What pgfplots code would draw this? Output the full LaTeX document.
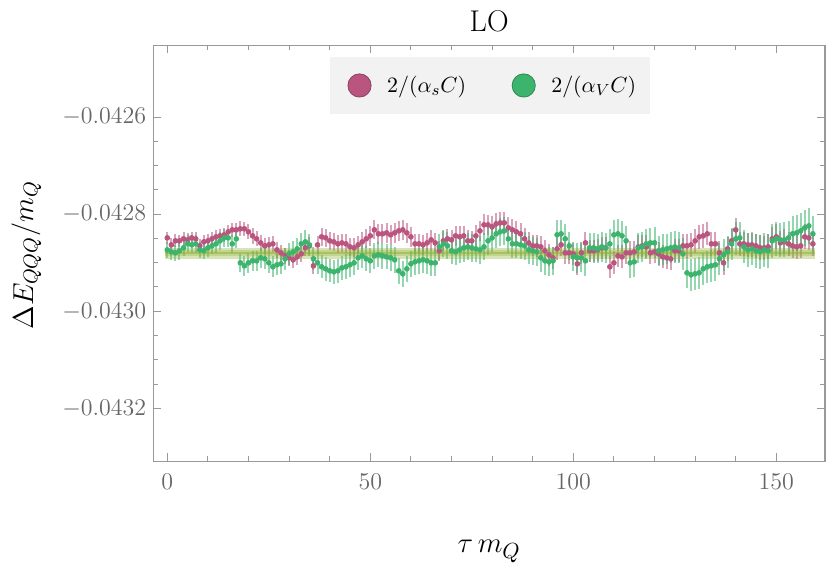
\documentclass[border=0pt]{standalone}
\usepackage{pgfplots}
\usepackage{pgfplotstable}
\pgfplotsset{compat=1.18}
\definecolor{pinkc}{HTML}{BA5580}
\definecolor{greenc}{HTML}{3DB46D}
\definecolor{bandc}{HTML}{8FB032}
\definecolor{framec}{HTML}{999999}
\definecolor{tickc}{HTML}{666666}
\definecolor{legbg}{HTML}{F2F2F2}

% t, 2/(alpha_s C): value and error, 2/(alpha_V C): value and error
\pgfplotstableread{
t yp ep yg eg
0 -0.0428488 0.0000130 -0.0428735 0.0000165
1 -0.0428632 0.0000140 -0.0428776 0.0000175
2 -0.0428549 0.0000135 -0.0428796 0.0000170
3 -0.0428549 0.0000130 -0.0428755 0.0000180
4 -0.0428508 0.0000140 -0.0428693 0.0000170
5 -0.0428529 0.0000135 -0.0428611 0.0000175
6 -0.0428488 0.0000130 -0.0428632 0.0000165
7 -0.0428508 0.0000140 -0.0428611 0.0000180
8 -0.0428652 0.0000135 -0.0428735 0.0000170
9 -0.0428570 0.0000145 -0.0428755 0.0000175
10 -0.0428549 0.0000140 -0.0428693 0.0000180
11 -0.0428508 0.0000135 -0.0428652 0.0000175
12 -0.0428467 0.0000145 -0.0428611 0.0000185
13 -0.0428447 0.0000140 -0.0428549 0.0000180
14 -0.0428426 0.0000150 -0.0428488 0.0000190
15 -0.0428364 0.0000145 -0.0428488 0.0000185
16 -0.0428323 0.0000150 -0.0428611 0.0000190
17 -0.0428323 0.0000145 -0.0428508 0.0000195
18 -0.0428302 0.0000155 -0.0429002 0.0000190
19 -0.0428302 0.0000150 -0.0429064 0.0000200
20 -0.0428364 0.0000155 -0.0429002 0.0000205
21 -0.0428447 0.0000160 -0.0428961 0.0000200
22 -0.0428508 0.0000155 -0.0428961 0.0000210
23 -0.0428591 0.0000165 -0.0428899 0.0000205
24 -0.0428652 0.0000160 -0.0428920 0.0000215
25 -0.0428632 0.0000165 -0.0429002 0.0000210
26 -0.0428611 0.0000160 -0.0429084 0.0000215
27 -0.0428735 0.0000170 -0.0429043 0.0000220
28 -0.0428796 0.0000165 -0.0429023 0.0000215
29 -0.0428858 0.0000170 -0.0428920 0.0000225
30 -0.0428899 0.0000165 -0.0428817 0.0000220
31 -0.0428940 0.0000175 -0.0428776 0.0000230
32 -0.0428879 0.0000170 -0.0428714 0.0000225
33 -0.0428817 0.0000175 -0.0428611 0.0000230
34 -0.0428693 0.0000170 -0.0428570 0.0000235
35 -0.0428652 0.0000180 -0.0428632 0.0000230
36 -0.0429064 0.0000175 -0.0428920 0.0000240
37 -0.0428632 0.0000180 -0.0429002 0.0000235
38 -0.0428467 0.0000185 -0.0429084 0.0000240
39 -0.0428488 0.0000180 -0.0429126 0.0000245
40 -0.0428549 0.0000185 -0.0429167 0.0000240
41 -0.0428570 0.0000190 -0.0429187 0.0000250
42 -0.0428611 0.0000185 -0.0429167 0.0000245
43 -0.0428591 0.0000190 -0.0429105 0.0000250
44 -0.0428611 0.0000195 -0.0429084 0.0000255
45 -0.0428673 0.0000190 -0.0429043 0.0000250
46 -0.0428693 0.0000195 -0.0429002 0.0000255
47 -0.0428632 0.0000190 -0.0428899 0.0000260
48 -0.0428570 0.0000200 -0.0428858 0.0000255
49 -0.0428508 0.0000195 -0.0428920 0.0000260
50 -0.0428447 0.0000200 -0.0428961 0.0000255
51 -0.0428323 0.0000195 -0.0428858 0.0000265
52 -0.0428405 0.0000200 -0.0428837 0.0000260
53 -0.0428405 0.0000195 -0.0428858 0.0000265
54 -0.0428385 0.0000205 -0.0428879 0.0000260
55 -0.0428426 0.0000200 -0.0428899 0.0000265
56 -0.0428385 0.0000205 -0.0428940 0.0000270
57 -0.0428344 0.0000200 -0.0429167 0.0000265
58 -0.0428323 0.0000205 -0.0429228 0.0000270
59 -0.0428385 0.0000200 -0.0429126 0.0000265
60 -0.0428467 0.0000205 -0.0429023 0.0000270
61 -0.0428611 0.0000200 -0.0428981 0.0000275
62 -0.0428611 0.0000205 -0.0428961 0.0000270
63 -0.0428632 0.0000210 -0.0428940 0.0000275
64 -0.0428591 0.0000205 -0.0428961 0.0000270
65 -0.0428529 0.0000210 -0.0429002 0.0000275
66 -0.0428591 0.0000205 -0.0429002 0.0000280
67 -0.0428755 0.0000210 -0.0428673 0.0000275
68 -0.0428549 0.0000205 -0.0428611 0.0000280
69 -0.0428508 0.0000210 -0.0428652 0.0000275
70 -0.0428529 0.0000205 -0.0428755 0.0000280
71 -0.0428447 0.0000210 -0.0428776 0.0000275
72 -0.0428467 0.0000215 -0.0428735 0.0000280
73 -0.0428447 0.0000210 -0.0428693 0.0000285
74 -0.0428549 0.0000215 -0.0428673 0.0000280
75 -0.0428549 0.0000210 -0.0428693 0.0000285
76 -0.0428447 0.0000215 -0.0428714 0.0000280
77 -0.0428344 0.0000210 -0.0428735 0.0000285
78 -0.0428220 0.0000215 -0.0428673 0.0000280
79 -0.0428220 0.0000210 -0.0428549 0.0000285
80 -0.0428261 0.0000215 -0.0428488 0.0000290
81 -0.0428200 0.0000220 -0.0428405 0.0000285
82 -0.0428179 0.0000215 -0.0428364 0.0000290
83 -0.0428179 0.0000220 -0.0428344 0.0000285
84 -0.0428282 0.0000215 -0.0428508 0.0000290
85 -0.0428323 0.0000220 -0.0428611 0.0000285
86 -0.0428364 0.0000215 -0.0428611 0.0000290
87 -0.0428405 0.0000220 -0.0428632 0.0000295
88 -0.0428508 0.0000215 -0.0428652 0.0000290
89 -0.0428591 0.0000220 -0.0428735 0.0000295
90 -0.0428652 0.0000215 -0.0428755 0.0000290
91 -0.0428652 0.0000220 -0.0428776 0.0000295
92 -0.0428673 0.0000225 -0.0428899 0.0000290
93 -0.0428755 0.0000220 -0.0428961 0.0000295
94 -0.0428837 0.0000225 -0.0428981 0.0000300
95 -0.0428899 0.0000220 -0.0428961 0.0000295
96 -0.0428714 0.0000225 -0.0428426 0.0000300
97 -0.0428632 0.0000220 -0.0428405 0.0000295
98 -0.0428796 0.0000225 -0.0428508 0.0000300
99 -0.0428796 0.0000220 -0.0428652 0.0000295
100 -0.0428817 0.0000225 -0.0428879 0.0000300
101 -0.0429023 0.0000230 -0.0428899 0.0000305
102 -0.0428796 0.0000225 -0.0428899 0.0000300
103 -0.0428591 0.0000230 -0.0428961 0.0000305
104 -0.0428755 0.0000225 -0.0428693 0.0000300
105 -0.0428755 0.0000230 -0.0428693 0.0000305
106 -0.0428735 0.0000225 -0.0428714 0.0000300
107 -0.0428693 0.0000230 -0.0428673 0.0000305
108 -0.0428693 0.0000225 -0.0428693 0.0000310
109 -0.0429084 0.0000230 -0.0428611 0.0000305
110 -0.0429002 0.0000235 -0.0428426 0.0000310
111 -0.0428858 0.0000230 -0.0428405 0.0000305
112 -0.0428879 0.0000235 -0.0428447 0.0000310
113 -0.0428796 0.0000230 -0.0428549 0.0000305
114 -0.0428796 0.0000235 -0.0429002 0.0000310
115 -0.0428776 0.0000230 -0.0428981 0.0000315
116 -0.0428673 0.0000235 -0.0428693 0.0000310
117 -0.0428652 0.0000230 -0.0428673 0.0000315
118 -0.0428673 0.0000235 -0.0428611 0.0000310
119 -0.0428796 0.0000230 -0.0428591 0.0000315
120 -0.0428776 0.0000235 -0.0428591 0.0000320
121 -0.0428817 0.0000240 -0.0428755 0.0000315
122 -0.0428879 0.0000235 -0.0428735 0.0000320
123 -0.0428899 0.0000240 -0.0428714 0.0000315
124 -0.0428920 0.0000235 -0.0428693 0.0000320
125 -0.0428755 0.0000240 -0.0428673 0.0000325
126 -0.0428755 0.0000235 -0.0428693 0.0000320
127 -0.0428652 0.0000240 -0.0428817 0.0000325
128 -0.0428652 0.0000245 -0.0429208 0.0000320
129 -0.0428632 0.0000240 -0.0429249 0.0000325
130 -0.0428549 0.0000245 -0.0429228 0.0000330
131 -0.0428467 0.0000240 -0.0429208 0.0000325
132 -0.0428447 0.0000245 -0.0429126 0.0000330
133 -0.0428405 0.0000240 -0.0429084 0.0000325
134 -0.0428611 0.0000245 -0.0429064 0.0000330
135 -0.0428611 0.0000240 -0.0429043 0.0000335
136 -0.0428796 0.0000245 -0.0428920 0.0000330
137 -0.0429002 0.0000250 -0.0428837 0.0000335
138 -0.0428714 0.0000245 -0.0428776 0.0000330
139 -0.0428549 0.0000250 -0.0428611 0.0000335
140 -0.0428323 0.0000245 -0.0428508 0.0000340
141 -0.0428611 0.0000250 -0.0428488 0.0000335
142 -0.0428611 0.0000245 -0.0428673 0.0000340
143 -0.0428632 0.0000250 -0.0428735 0.0000345
144 -0.0428632 0.0000245 -0.0428714 0.0000340
145 -0.0428652 0.0000250 -0.0428755 0.0000345
146 -0.0428693 0.0000255 -0.0428776 0.0000350
147 -0.0428693 0.0000250 -0.0428735 0.0000345
148 -0.0428673 0.0000255 -0.0428755 0.0000350
149 -0.0428508 0.0000250 -0.0428549 0.0000355
150 -0.0428467 0.0000255 -0.0428508 0.0000350
151 -0.0428591 0.0000250 -0.0428529 0.0000355
152 -0.0428570 0.0000255 -0.0428529 0.0000360
153 -0.0428611 0.0000250 -0.0428488 0.0000355
154 -0.0428652 0.0000255 -0.0428405 0.0000360
155 -0.0428673 0.0000260 -0.0428385 0.0000365
156 -0.0428652 0.0000255 -0.0428344 0.0000360
157 -0.0428467 0.0000260 -0.0428282 0.0000365
158 -0.0428488 0.0000255 -0.0428241 0.0000370
159 -0.0428611 0.0000260 -0.0428405 0.0000365
}\lodata

\begin{document}
\begin{tikzpicture}
\begin{axis}[
    scale only axis,
    width=335.9pt, height=207.9pt,
    xmin=-3.45, xmax=162,
    ymin=-0.043309, ymax=-0.0424525,
    xtick={0,50,100,150}, minor x tick num=4,
    ytick={-0.0432,-0.0430,-0.0428,-0.0426}, minor y tick num=3,
    scaled y ticks=false,
    yticklabel style={/pgf/number format/.cd, fixed, precision=4, fixed zerofill},
    tick label style={font=\fontsize{13}{15}\selectfont, color=tickc},
    xticklabel shift=2.7pt,
    axis line style={framec, line width=0.6pt},
    every tick/.style={framec, line width=0.5pt},
    major tick length=4pt, minor tick length=2.5pt,
    tick align=inside,
    xlabel={$\tau\, m_Q$},
    xlabel style={at={(0.5,-0.2205)}, anchor=base, inner sep=0pt, font=\fontsize{15}{18}\selectfont},
    ylabel={$\Delta E_{QQQ}/m_Q$},
    ylabel style={at={(-0.179,0.496)}, anchor=base, inner sep=0pt, font=\fontsize{14.5}{17}\selectfont},
    legend columns=2,
    legend style={at={(0.501,0.9038)}, anchor=center, fill=legbg, draw=none,
        font=\fontsize{11}{13}\selectfont, inner xsep=5pt, inner ysep=7.3pt,
        /tikz/every even column/.append style={column sep=16.8pt}},
    legend cell align=left,
]
\addplot[pinkc, only marks, mark=*, mark size=1.2pt, mark options={fill=pinkc, draw=pinkc},
    legend image code/.code={
        \path[draw=none, fill=none] (-10pt,-1pt) rectangle (11.8pt,1pt);
        \draw[fill=pinkc, draw=pinkc!75!black, line width=0.4pt] (0pt,0pt) circle (5.8pt);},
    error bars/.cd, y dir=both, y explicit, error mark=none,
    error bar style={pinkc, line width=1pt, opacity=0.55}]
    table[x=t, y=yp, y error=ep] {\lodata};
\addlegendentry{$2/(\alpha_s C)$}
\addplot[greenc, only marks, mark=*, mark size=1.2pt, mark options={fill=greenc, draw=greenc},
    legend image code/.code={
        \path[draw=none, fill=none] (-10pt,-1pt) rectangle (11.8pt,1pt);
        \draw[fill=greenc, draw=greenc!75!black, line width=0.4pt] (0pt,0pt) circle (5.8pt);},
    error bars/.cd, y dir=both, y explicit, error mark=none,
    error bar style={greenc, line width=1pt, opacity=0.55}]
    table[x=t, y=yg, y error=eg] {\lodata};
\addlegendentry{$2/(\alpha_V C)$}
% fit band
\addplot[forget plot, draw=none, fill=bandc, fill opacity=0.35]
    coordinates {(-0.5,-0.0428693) (159.5,-0.0428693) (159.5,-0.0428919) (-0.5,-0.0428919)} -- cycle;
\addplot[forget plot, draw=none, fill=bandc, fill opacity=0.3]
    coordinates {(-0.5,-0.0428745) (159.5,-0.0428745) (159.5,-0.0428867) (-0.5,-0.0428867)} -- cycle;
\addplot[forget plot, bandc, line width=1pt, opacity=0.5]
    coordinates {(-0.5,-0.0428806) (159.5,-0.0428806)};
\coordinate (bbsw) at (rel axis cs:-0.2282,-0.2494);
\coordinate (bbne) at (rel axis cs:1.0074,1.1094);
\coordinate (ttl) at (rel axis cs:0.5,1.0325);
\end{axis}
\node[anchor=base, inner sep=0pt, font=\fontsize{15}{18}\selectfont] at (ttl) {LO};
\path (bbsw) rectangle (bbne);
\end{tikzpicture}
\end{document}
